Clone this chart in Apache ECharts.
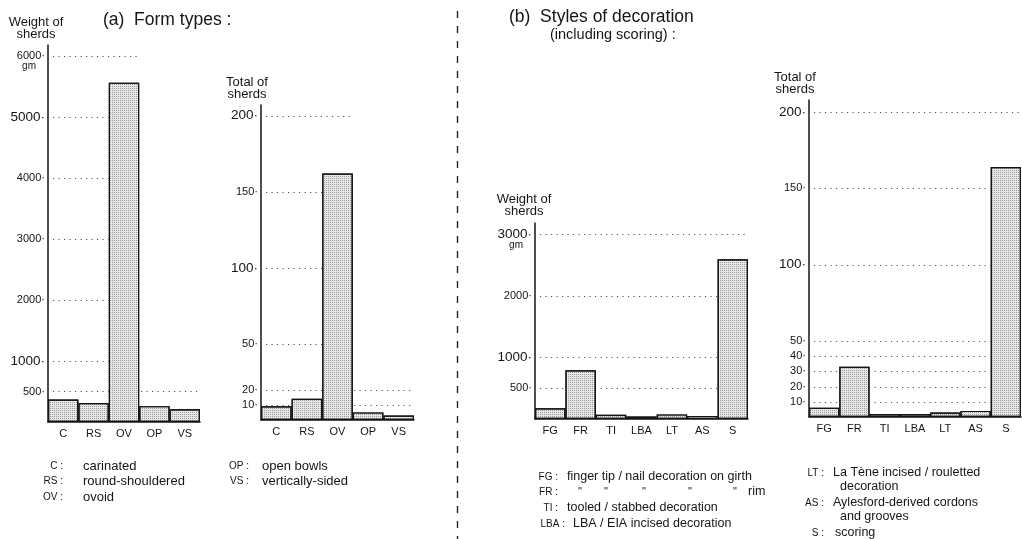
<!DOCTYPE html>
<html>
<head>
<meta charset="utf-8">
<script src="https://cdn.jsdelivr.net/npm/echarts@6/dist/echarts.min.js"></script>
<style>
  html, body { margin: 0; padding: 0; background: #fff; }
  #chart { width: 1022px; height: 539px; }
</style>
</head>
<body>
<div id="chart"></div>
<script>
// (a) Form types
const formTypes = ['C', 'RS', 'OV', 'OP', 'VS'];
const formWeight = [370, 310, 5560, 260, 210];        // gm
const formTotal = [9, 14, 162, 5, 3];                 // sherds
const formWeightTicks = [500, 1000, 2000, 3000, 4000, 5000, 6000];
const formTotalTicks = [10, 20, 50, 100, 150, 200];
// category at whose right edge each dotted guide line stops
const formWeightGuideEnd = ['VS', 'RS', 'RS', 'RS', 'RS', 'RS', 'OV'];
const formTotalGuideEnd = ['VS', 'VS', 'RS', 'RS', 'RS', 'OV'];

// (b) Styles of decoration
const decorStyles = ['FG', 'FR', 'TI', 'LBA', 'LT', 'AS', 'S'];
const decorWeight = [175, 790, 70, 40, 75, 50, 2590]; // gm
const decorTotal = [6, 33, 2, 2, 3, 4, 164];          // sherds
const decorWeightTicks = [500, 1000, 2000, 3000];
const decorTotalTicks = [10, 20, 30, 40, 50, 100, 150, 200];
const decorWeightGuideEnd = ['AS', 'AS', 'AS', 'S'];
const decorTotalGuideEnd = ['AS', 'AS', 'AS', 'AS', 'AS', 'AS', 'AS', 'S'];

// key texts
const formKeyLeft = [['C', 'carinated'], ['RS', 'round-shouldered'], ['OV', 'ovoid']];
const formKeyRight = [['OP', 'open bowls'], ['VS', 'vertically-sided']];

const FONT = '"Liberation Sans", Arial, Helvetica, sans-serif';
const INK = '#151515';

const chart = echarts.init(document.getElementById('chart'), null, { renderer: 'canvas' });

// stippled fill for the bars
const stipple = {
  symbol: 'rect',
  symbolSize: 1,
  dashArrayX: [1, 1],
  dashArrayY: [1, 1],
  color: 'rgba(0,0,0,0.34)',
  rotation: 0
};

function tickFormatter(ticks, large, unitAt) {
  return function (v) {
    if (ticks.indexOf(v) < 0) return '';
    const st = large.indexOf(v) >= 0 ? 'big' : 'small';
    if (v === unitAt) return '{pad|}\n{' + st + '|' + v + '·}\n{unit|gm}';
    return '{' + st + '|' + v + '·}';
  };
}

const tickRich = {
  big: { fontSize: 13.5, fontFamily: FONT, color: INK },
  small: { fontSize: 11, fontFamily: FONT, color: INK },
  unit: { fontSize: 10, fontFamily: FONT, color: INK, lineHeight: 9, padding: [0, 9, 0, 0] },
  pad: { lineHeight: 9, fontSize: 9 }
};

const panels = [
  { left: 48, width: 152, top: 45, bottom: 117, max: 6180, interval: 500,
    cats: formTypes, values: formWeight, ticks: formWeightTicks, large: [1000, 5000], unitAt: 6000,
    guideEnd: formWeightGuideEnd, name: 'Weight of\nsherds', nameShift: 12 },
  { left: 261, width: 153, top: 105, bottom: 119, max: 207, interval: 10,
    cats: formTypes, values: formTotal, ticks: formTotalTicks, large: [100, 200], unitAt: null,
    guideEnd: formTotalGuideEnd, name: 'Total of\nsherds', nameShift: 14 },
  { left: 535, width: 213, top: 223, bottom: 120, max: 3180, interval: 500,
    cats: decorStyles, values: decorWeight, ticks: decorWeightTicks, large: [1000, 3000], unitAt: 3000,
    guideEnd: decorWeightGuideEnd, name: 'Weight of\nsherds', nameShift: 11 },
  { left: 809, width: 212, top: 100, bottom: 122, max: 208, interval: 10,
    cats: decorStyles, values: decorTotal, ticks: decorTotalTicks, large: [100, 200], unitAt: null,
    guideEnd: decorTotalGuideEnd, name: 'Total of\nsherds', nameShift: 14 }
];

const grid = [], xAxis = [], yAxis = [], series = [];

panels.forEach(function (p, i) {
  grid.push({ left: p.left, width: p.width, top: p.top, bottom: p.bottom, containLabel: false });
  xAxis.push({
    type: 'category', gridIndex: i, data: p.cats,
    axisLine: { lineStyle: { color: INK, width: 1.5 } },
    axisTick: { show: false },
    axisLabel: { fontSize: 11, fontFamily: FONT, color: INK, margin: 6 },
    splitLine: { show: false }
  });
  yAxis.push({
    type: 'value', gridIndex: i, min: 0, max: p.max, interval: p.interval,
    axisLine: { show: true, lineStyle: { color: INK, width: 1.5 } },
    axisTick: { show: false },
    splitLine: { show: false },
    axisLabel: { formatter: tickFormatter(p.ticks, p.large, p.unitAt), rich: tickRich, margin: 3,
                 showMinLabel: false, showMaxLabel: false },
    name: p.name, nameLocation: 'end', nameGap: 4,
    nameTextStyle: { fontSize: 13, lineHeight: 12.5, fontFamily: FONT, color: INK, align: 'center',
                     padding: [0, p.nameShift * 2, 0, 0] }
  });
  // dotted guide lines, each running from the axis to the edge of a given bar
  series.push({
    type: 'custom', xAxisIndex: i, yAxisIndex: i, silent: true, z: 1,
    data: p.ticks.map(function (t, k) { return [p.cats.indexOf(p.guideEnd[k]), t]; }),
    renderItem: function (params, api) {
      const pt = api.coord([api.value(0), api.value(1)]);
      const half = api.size([1, 0])[0] / 2;
      const cs = params.coordSys;
      const y = Math.round(pt[1]) + 0.5;
      return {
        type: 'line',
        shape: { x1: cs.x + 5, y1: y, x2: pt[0] + half, y2: y },
        style: { stroke: '#555', lineWidth: 1, lineDash: [1.2, 4.3] }
      };
    }
  });
  series.push({
    type: 'bar', xAxisIndex: i, yAxisIndex: i, data: p.values, z: 2,
    barCategoryGap: '0%', silent: true,
    itemStyle: { color: '#e8e8e8', borderColor: INK, borderWidth: 1.2, decal: stipple }
  });
});

function txt(x, y, text, size, align) {
  return { type: 'text', x: x, y: y, silent: true,
    style: { text: text, fontSize: size, fontFamily: FONT, fill: INK,
             textAlign: align || 'left', textVerticalAlign: 'middle' } };
}

const graphic = [
  // panel headings
  txt(103, 20, '(a)  Form types :', 17.5),
  txt(509, 17, '(b)  Styles of decoration', 17.5),
  txt(550, 35, '(including scoring) :', 14.5),
  // separator between (a) and (b)
  { type: 'line', silent: true, shape: { x1: 457.5, y1: 11, x2: 457.5, y2: 539 },
    style: { stroke: '#222', lineWidth: 1.4, lineDash: [7, 8] } }
];

// key to form types
formKeyLeft.forEach(function (k, r) {
  graphic.push(txt(63, 466 + r * 15.5, k[0] + ' :', 10, 'right'));
  graphic.push(txt(83, 466 + r * 15.5, k[1], 13));
});
formKeyRight.forEach(function (k, r) {
  graphic.push(txt(249, 466 + r * 15.5, k[0] + ' :', 10, 'right'));
  graphic.push(txt(262, 466 + r * 15.5, k[1], 13));
});

// key to decoration styles
graphic.push(
  txt(558, 477, 'FG :', 10, 'right'), txt(567, 477, 'finger tip / nail decoration on girth', 12.5),
  txt(558, 492, 'FR :', 10, 'right'),
  txt(578, 492, '"', 11), txt(604, 492, '"', 11), txt(642, 492, '"', 11),
  txt(688, 492, '"', 11), txt(733, 492, '"', 11), txt(748, 492, 'rim', 12.5),
  txt(558, 508, 'TI :', 10, 'right'), txt(567, 508, 'tooled / stabbed decoration', 12.5),
  txt(565, 524, 'LBA :', 10, 'right'), txt(573, 524, 'LBA / EIA incised decoration', 12.5),
  txt(824, 473, 'LT :', 10, 'right'), txt(833, 473, 'La Tène incised / rouletted', 12.5),
  txt(840, 487, 'decoration', 12.5),
  txt(824, 503, 'AS :', 10, 'right'), txt(833, 503, 'Aylesford-derived cordons', 12.5),
  txt(840, 517, 'and grooves', 12.5),
  txt(824, 533, 'S :', 10, 'right'), txt(835, 533, 'scoring', 12.5)
);

chart.setOption({
  animation: false,
  backgroundColor: '#ffffff',
  grid: grid,
  xAxis: xAxis,
  yAxis: yAxis,
  series: series,
  graphic: graphic
});
</script>
</body>
</html>
